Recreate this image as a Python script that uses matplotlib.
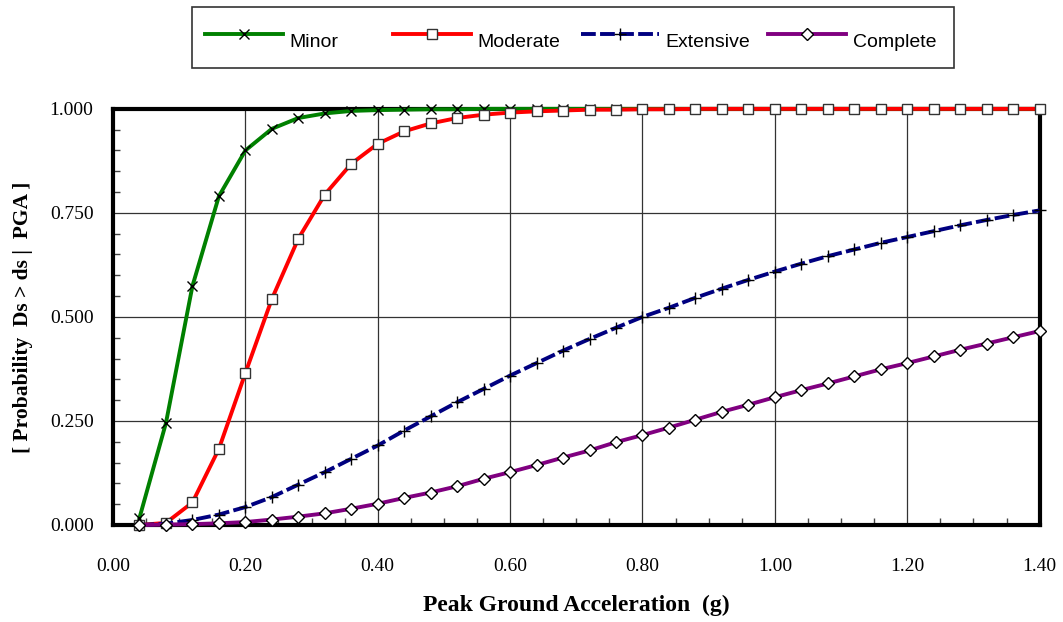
import matplotlib
matplotlib.use("Agg")
import matplotlib.pyplot as plt
from matplotlib.ticker import MultipleLocator, FormatStrFormatter
from matplotlib.legend_handler import HandlerLine2D
from matplotlib.patches import Rectangle

# peak ground acceleration (g) and exceedance probabilities
pga = [0.04, 0.08, 0.12, 0.16, 0.20, 0.24, 0.28, 0.32, 0.36, 0.40, 0.44, 0.48,
       0.52, 0.56, 0.60, 0.64, 0.68, 0.72, 0.76, 0.80, 0.84, 0.88, 0.92, 0.96,
       1.00, 1.04, 1.08, 1.12, 1.16, 1.20, 1.24, 1.28, 1.32, 1.36, 1.40]

minor = [0.017, 0.245, 0.574, 0.790, 0.900, 0.952, 0.978, 0.989, 0.995, 0.997,
         0.998, 0.999, 0.999, 1.000, 1.000, 1.000, 1.000, 1.000, 1.000, 1.000,
         1.000, 1.000, 1.000, 1.000, 1.000, 1.000, 1.000, 1.000, 1.000, 1.000,
         1.000, 1.000, 1.000, 1.000, 1.000]
moderate = [0.000, 0.005, 0.054, 0.183, 0.365, 0.543, 0.688, 0.794, 0.868, 0.916,
            0.946, 0.965, 0.978, 0.986, 0.991, 0.994, 0.996, 0.998, 0.998, 0.999,
            0.999, 1.000, 1.000, 1.000, 1.000, 1.000, 1.000, 1.000, 1.000, 1.000,
            1.000, 1.000, 1.000, 1.000, 1.000]
extensive = [0.000, 0.003, 0.012, 0.025, 0.043, 0.067, 0.097, 0.127, 0.159, 0.191,
             0.227, 0.261, 0.295, 0.327, 0.359, 0.389, 0.419, 0.447, 0.474, 0.500,
             0.522, 0.546, 0.568, 0.589, 0.609, 0.628, 0.646, 0.662, 0.678, 0.692,
             0.706, 0.720, 0.733, 0.745, 0.756]
complete = [0.000, 0.001, 0.002, 0.004, 0.007, 0.013, 0.020, 0.028, 0.039, 0.051,
            0.065, 0.078, 0.093, 0.111, 0.127, 0.144, 0.162, 0.179, 0.199, 0.216,
            0.234, 0.253, 0.272, 0.289, 0.307, 0.324, 0.340, 0.357, 0.374, 0.389,
            0.405, 0.421, 0.436, 0.451, 0.466]

fig = plt.figure(figsize=(10.63, 6.22), dpi=100)
ax = fig.add_axes([0.1063, 0.156, 0.8717, 0.669])

lw = 2.8
l1, = ax.plot(pga, minor, color="#008000", lw=lw, marker="x", ms=7.5, mec="black",
              mew=1.0, label="Minor", clip_on=False, zorder=3)
l2, = ax.plot(pga, moderate, color="#ff0000", lw=lw, marker="s", ms=7.5, mfc="white",
              mec="#333333", mew=1.0, label="Moderate", clip_on=False, zorder=4)
l3, = ax.plot(pga, extensive, color="#000080", lw=lw, ls=(0, (3.8, 1.1)), marker="+",
              ms=8, mec="black", mew=1.0, label="Extensive", clip_on=False, zorder=5)
l4, = ax.plot(pga, complete, color="#800080", lw=lw, marker="D", ms=6, mfc="white",
              mec="black", mew=1.0, label="Complete", clip_on=False, zorder=6)

ax.set_xlim(0, 1.4)
ax.set_ylim(0, 1.0)
ax.xaxis.set_major_locator(MultipleLocator(0.2))
ax.xaxis.set_minor_locator(MultipleLocator(0.05))
ax.yaxis.set_major_locator(MultipleLocator(0.25))
ax.yaxis.set_minor_locator(MultipleLocator(0.05))
ax.xaxis.set_major_formatter(FormatStrFormatter("%.2f"))
ax.yaxis.set_major_formatter(FormatStrFormatter("%.3f"))
ax.grid(True, which="major", color="#333333", lw=0.9)
ax.set_axisbelow(True)

ax.tick_params(which="major", length=0, pad=14, labelsize=14)
ax.tick_params(axis="x", which="major", pad=24)
ax.tick_params(which="minor", direction="in", length=5, width=1, color="#444444")
for lab in ax.get_xticklabels() + ax.get_yticklabels():
    lab.set_fontfamily("Liberation Serif")
for sp in ax.spines.values():
    sp.set_linewidth(3)
    sp.set_color("black")

ax.set_xlabel("Peak Ground Acceleration  (g)", family="Liberation Serif",
              fontsize=17, fontweight="bold", labelpad=14)
ax.set_ylabel("[ Probability  Ds > ds |  PGA ]", family="Liberation Serif",
              fontsize=15.5, fontweight="bold", labelpad=12)


class RaisedLine(HandlerLine2D):
    # legend keys sit a little above the label text, as in the original
    def create_artists(self, legend, orig_handle, xdescent, ydescent,
                       width, height, fontsize, trans):
        return super().create_artists(legend, orig_handle, xdescent, ydescent - 9,
                                      width, height, fontsize, trans)


# legend: one frame, four evenly pitched entries
fig.add_artist(Rectangle((192 / 1063, 1 - 68 / 622), 762 / 1063, 61 / 622,
                         transform=fig.transFigure, fill=False,
                         edgecolor="#333333", lw=1.2))
for line, x0 in zip([l1, l2, l3, l4], [205, 393, 581, 768]):
    fig.legend([line], [line.get_label()], loc="center left",
               bbox_to_anchor=(x0 / 1063, 1 - 42 / 622), frameon=False,
               prop={"family": "Liberation Sans", "size": 14},
               handlelength=4.0, handletextpad=0.36, borderpad=0,
               borderaxespad=0, numpoints=1,
               handler_map={line: RaisedLine()})

fig.savefig("out.png", dpi=100)
